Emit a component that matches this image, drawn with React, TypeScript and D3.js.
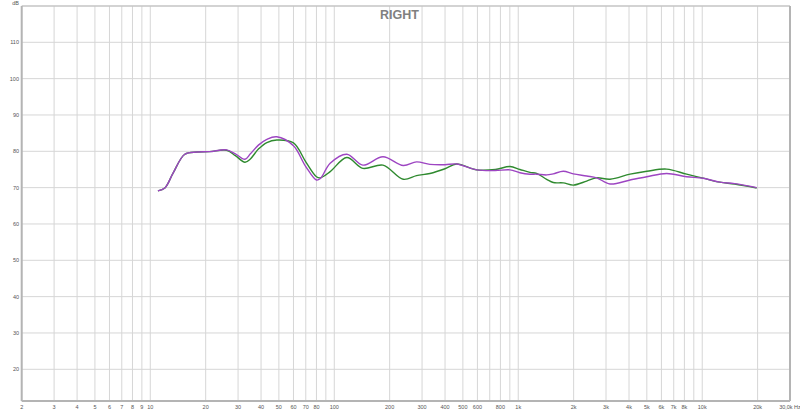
import React from "react";
import * as d3 from "d3";

const freqs = [11, 12, 13.3, 15.4, 18, 21, 26, 29, 32.7, 35, 38.7, 43, 48.7, 60, 70, 80, 84, 95, 117, 143, 184, 237, 280, 331, 400, 462, 594, 750, 902, 1021, 1158, 1259, 1427, 1550, 1757, 1992, 2355, 2669, 3153, 4053, 5000, 6404, 8227, 10120, 12470, 15000, 19770];
const purpleDb = [69.1, 69.9, 74, 79.2, 79.8, 79.9, 80.4, 79.3, 77.8, 79.3, 81.7, 83.3, 84.0, 81.5, 75.8, 72.1, 72.5, 76.7, 79.2, 76.2, 78.5, 76.1, 77.1, 76.4, 76.3, 76.5, 74.9, 74.7, 74.9, 74.1, 73.7, 73.7, 73.5, 73.8, 74.5, 73.8, 73.2, 72.7, 71.0, 72.1, 73.0, 73.9, 73.0, 72.6, 71.5, 71.1, 70.0];
const greenDb = [69.1, 69.9, 74, 79.2, 79.8, 79.9, 80.3, 78.8, 77.0, 77.9, 80.6, 82.4, 83.1, 82.3, 77.1, 73.0, 72.7, 74.4, 78.3, 75.3, 76.2, 72.3, 73.3, 73.9, 75.2, 76.5, 74.9, 75.0, 75.8, 75.0, 74.2, 73.9, 72.3, 71.4, 71.3, 70.7, 71.8, 72.7, 72.3, 73.7, 74.5, 75.1, 73.7, 72.6, 71.5, 71.0, 69.9];

const gridFreqs = [2, 3, 4, 5, 6, 7, 8, 9, 10, 20, 30, 40, 50, 60, 70, 80, 90, 100, 200, 300, 400, 500, 600, 700, 800, 900, 1000, 2000, 3000, 4000, 5000, 6000, 7000, 8000, 9000, 10000, 20000];
const xTickVals = [2, 3, 4, 5, 6, 7, 8, 9, 10, 20, 30, 40, 50, 60, 70, 80, 100, 200, 300, 400, 500, 600, 800, 1000, 2000, 3000, 4000, 5000, 6000, 7000, 8000, 10000, 20000, 30000];
const xTickLabels = ["2", "3", "4", "5", "6", "7", "8", "9", "10", "20", "30", "40", "50", "60", "70", "80", "100", "200", "300", "400", "500", "600", "800", "1k", "2k", "3k", "4k", "5k", "6k", "7k", "8k", "10k", "20k", "30,0k Hz"];
const yTicks = [20, 30, 40, 50, 60, 70, 80, 90, 100, 110];

export default function App() {
  const left = 21.7, right = 790, top = 6, bottom = 401;
  const x = d3.scaleLog().domain([2, 30000]).range([left, right]);
  const y = d3.scaleLinear().domain([110, 20]).range([42.3, 369.3]);
  const line = (vals: number[]) =>
    d3.line<number>()
      .x((_, i) => x(freqs[i]))
      .y((v) => y(v))
      .curve(d3.curveCatmullRom.alpha(0.5))(vals) as string;
  const font = "'Liberation Sans', Arial, sans-serif";
  return (
    <svg width={800} height={412} style={{ position: "absolute", left: 0, top: 0, background: "#fff" }} fontFamily={font}>
      <rect x={0} y={0} width={800} height={412} fill="#fff" />
      {gridFreqs.map((f) => (
        <line key={"gx" + f} x1={x(f)} x2={x(f)} y1={top} y2={bottom} stroke="#d6d6d6" strokeWidth={1} />
      ))}
      {yTicks.map((t) => (
        <line key={"gy" + t} x1={left} x2={right} y1={y(t)} y2={y(t)} stroke="#d6d6d6" strokeWidth={1} />
      ))}
      <line x1={left} x2={right} y1={top} y2={top} stroke="#c4c4c4" strokeWidth={1.5} />
      <line x1={left} x2={left} y1={top} y2={bottom} stroke="#b4b4b4" strokeWidth={2} />
      <line x1={right} x2={right} y1={top} y2={bottom} stroke="#b4b4b4" strokeWidth={2} />
      <line x1={left} x2={right} y1={bottom} y2={bottom} stroke="#b4b4b4" strokeWidth={2} />
      {yTicks.map((t) => (
        <text key={"ty" + t} x={19} y={y(t)} dy="0.35em" textAnchor="end" fontSize={5.5} fill="#555">{t}</text>
      ))}
      <text x={19} y={5} textAnchor="end" fontSize={5.5} fill="#555">dB</text>
      {xTickVals.map((f, i) => (
        <text key={"tx" + f} x={x(f)} y={409} textAnchor="middle" fontSize={5.5} fill="#555">{xTickLabels[i]}</text>
      ))}
      <text x={399.5} y={18.5} textAnchor="middle" fontSize={12.5} fontWeight="bold" fill="#808080">RIGHT</text>
      <path d={line(greenDb)} fill="none" stroke="#2f8a2f" strokeWidth={1.4} />
      <path d={line(purpleDb)} fill="none" stroke="#9d45c2" strokeWidth={1.4} />
    </svg>
  );
}
